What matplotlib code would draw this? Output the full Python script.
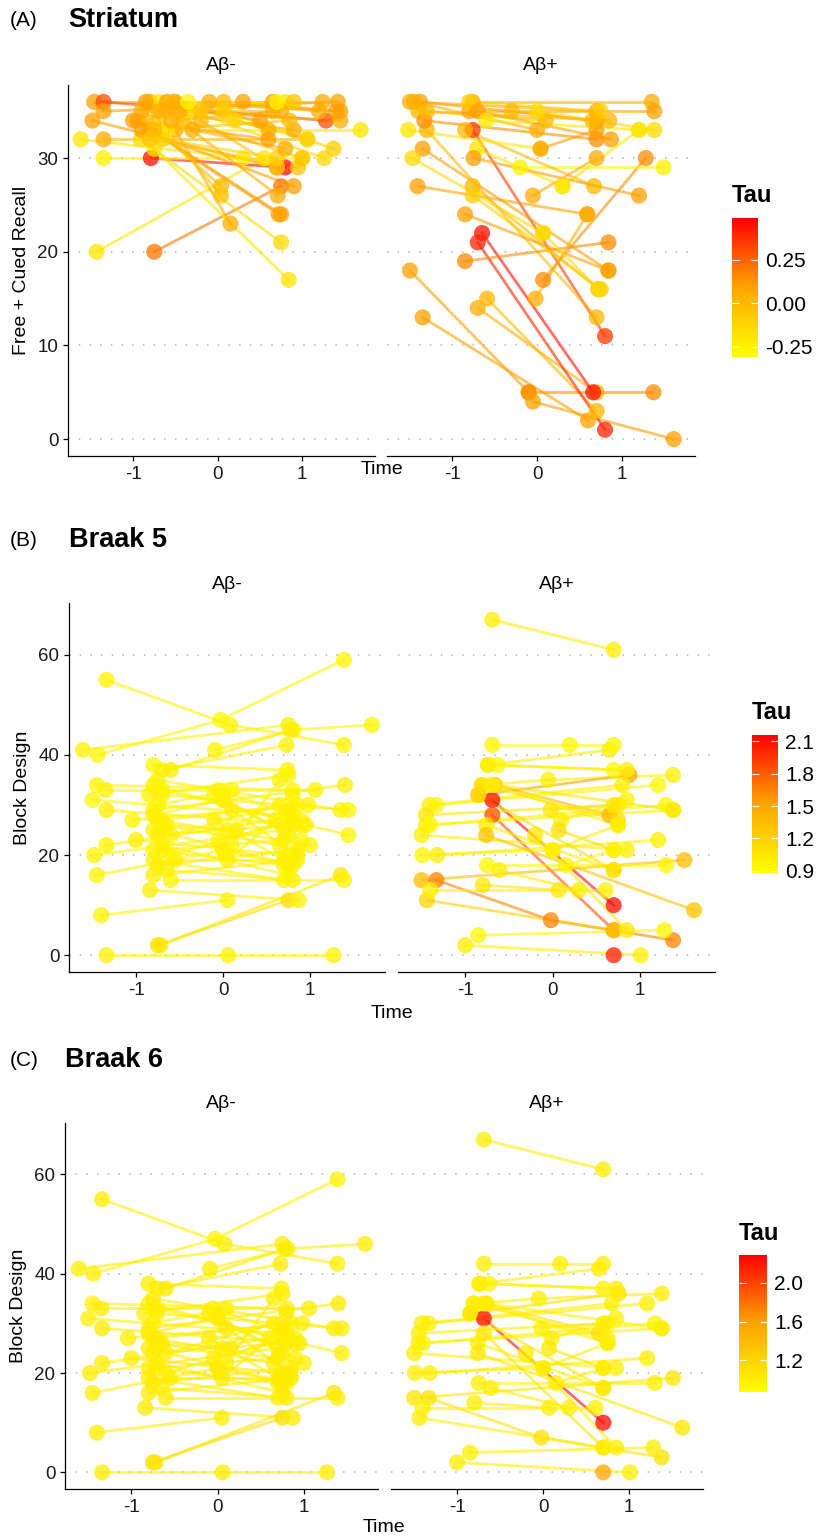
import matplotlib
matplotlib.use("Agg")
import matplotlib.pyplot as plt
from matplotlib.colors import LinearSegmentedColormap, Normalize
from matplotlib.cm import ScalarMappable

plt.rcParams['font.family'] = ['Liberation Sans', 'DejaVu Sans']
plt.rcParams['axes.unicode_minus'] = False

# ---- (A) Striatum: Free + Cued Recall ----
a_neg_time = [
    [-1.43, 0.55], [-0.75, 0.75], [-0.79, 0.80], [-1.35, 1.00], [-1.62, 0.30],
    [-1.35, 1.06], [-1.48, 0.70], [-1.46, 0.65], [-1.35, 1.28], [-1.35, 1.42],
    [-0.80, 1.24], [-0.70, 0.80], [-0.60, 1.45], [-0.52, 0.07], [-0.75, 0.84],
    [-0.91, 0.75], [-0.95, 0.75], [-0.80, 0.72], [-0.60, 0.71], [-0.50, 0.15],
    [-0.85, 0.04], [-0.70, 0.04], [-0.90, 0.90], [-0.40, 1.00], [-0.30, 1.26],
    [0.07, 1.37], [-0.60, 1.69], [-0.90, 0.65], [-0.70, 0.90], [-0.50, 0.60],
    [-0.45, 1.45], [-0.20, 0.70], [-0.10, 1.20], [0.30, 1.40], [-0.65, 0.70],
    [-0.30, 0.80], [-0.85, 0.50], [-1.00, 0.60], [-0.75, 0.85], [-0.55, 0.75],
    [-0.35, 0.70], [-0.20, 0.90], [0.20, 1.06], [-0.80, 0.95],
]
a_neg_score = [
    [20, 30], [20, 27], [30, 29], [30, 30], [32, 30],
    [32, 32], [34, 29], [36, 36], [36, 34], [35, 36],
    [36, 36], [36, 36], [36, 35], [36, 36], [31, 17],
    [32, 21], [34, 24], [33, 24], [35, 26], [33, 23],
    [34, 27], [34, 26], [33, 27], [34, 30], [35, 30],
    [35, 31], [33, 33], [35, 35], [35, 33], [36, 33],
    [35, 34], [34, 29], [36, 35], [36, 35], [32, 30],
    [33, 31], [36, 34], [34, 32], [33, 34], [34, 35],
    [36, 36], [35, 36], [34, 32], [32, 29],
]
a_neg_tau = [
    -0.20, 0.20, 0.45, -0.25, -0.20,
    0.05, 0.10, 0.10, 0.30, 0.10,
    0.05, -0.20, 0.10, 0.00, -0.20,
    -0.15, 0.10, 0.10, 0.05, 0.05,
    0.00, -0.05, 0.10, -0.05, -0.15,
    -0.10, -0.20, 0.05, 0.05, 0.05,
    0.05, 0.00, 0.05, 0.10, -0.10,
    0.05, 0.10, 0.10, 0.00, 0.05,
    -0.25, -0.05, -0.15, -0.05,
]

a_pos_time = [
    [-1.50, -0.10], [-1.35, 0.60], [-0.59, 0.70], [-0.70, 0.70], [-0.65, 0.66],
    [-0.76, 0.80], [-0.10, 1.37], [-0.05, 1.61], [-0.70, 0.80], [-0.85, 0.84],
    [0.07, 1.28], [-1.41, 0.59], [-1.35, 0.84], [-1.30, 0.70], [-0.76, 0.72],
    [-0.76, 0.75], [-0.85, 0.84], [-0.71, 0.30], [-0.20, 1.49], [0.30, 1.20],
    [-0.85, 0.67], [-1.47, 0.07], [-1.52, 0.04], [-0.75, 1.20], [-1.50, 0.70],
    [-1.38, 0.70], [-1.40, 0.85], [-1.33, 0.70], [-0.76, 1.35], [-0.80, 1.38],
    [-0.80, 0.75], [-0.70, 0.87], [-1.45, 0.00], [-1.30, 0.10], [-0.60, 1.20],
    [0.00, 1.38], [-0.02, 0.59], [0.07, 0.72], [-0.05, 0.70], [0.04, 0.70],
    [-0.30, 0.65],
]
a_pos_score = [
    [18, 5], [13, 2], [15, 3], [14, 5], [22, 5],
    [33, 11], [5, 5], [4, 0], [21, 1], [19, 21],
    [17, 30], [27, 24], [31, 18], [33, 13], [27, 16],
    [26, 16], [24, 18], [31, 27], [29, 29], [27, 33],
    [33, 27], [30, 22], [33, 31], [30, 26], [36, 35],
    [36, 34], [35, 34], [34, 32], [36, 36], [35, 35],
    [36, 35], [35, 32], [36, 33], [35, 34], [34, 33],
    [35, 33], [15, 24], [22, 16], [26, 30], [31, 33],
    [35, 34],
]
a_pos_tau = [
    0.10, 0.10, 0.00, 0.05, 0.45,
    0.35, 0.15, 0.10, 0.40, 0.15,
    0.15, 0.10, 0.10, 0.00, 0.00,
    -0.10, 0.10, -0.20, -0.25, -0.20,
    0.00, -0.15, -0.20, 0.10, 0.05,
    0.10, 0.00, 0.15, 0.05, 0.10,
    -0.10, 0.10, 0.05, 0.00, -0.20,
    -0.15, 0.05, -0.15, 0.05, 0.10,
    0.00,
]

# ---- (B)/(C) Block Design (same scores, tau from Braak 5 / Braak 6) ----
bd_neg_time = [
    [-1.34, 0.08, 1.39], [-1.44, -0.03, 1.39], [-1.61, 0.75], [-0.09, 0.81, 1.71], [-1.34, 0.06, 1.27],
    [-0.75, 0.75], [-0.72, 1.35], [-1.40, 0.05], [-0.84, 0.87], [-1.45, 0.00],
    [-1.48, 0.70], [-1.34, 0.60], [-1.50, 0.72], [-1.34, 0.95], [-1.45, 0.80],
    [-1.35, 1.06], [-1.04, 0.98], [-1.00, 0.75], [-0.80, 0.74], [-0.70, 0.73],
    [-0.60, 0.78], [-0.80, 0.90], [-0.70, 1.44], [-0.75, 1.35], [-0.70, 1.44],
    [-0.80, 1.40], [-0.75, 1.00], [-0.80, 0.80], [-0.70, 0.75], [-0.80, 0.70],
    [-0.75, 0.85], [-0.65, 0.80], [-0.60, 1.39], [-0.70, 0.70], [-0.60, 0.65],
    [-0.80, 0.00], [-0.75, 0.10], [-0.65, 0.15], [-0.05, 0.80], [0.00, 0.75],
    [0.10, 0.85], [-0.10, 0.70], [0.05, 0.80], [-0.05, 0.90], [0.00, 0.75],
    [0.10, 0.65], [-0.80, 0.70], [-0.75, 0.80], [-0.70, 0.85], [-0.85, 0.75],
    [-0.55, 0.72], [-0.10, 0.90], [0.05, 0.75], [-0.70, 0.65], [-0.60, 0.80],
    [-0.80, 0.85],
]
bd_neg_score = [
    [55, 46, 42], [40, 47, 59], [41, 46], [41, 45, 46], [0, 0, 0],
    [2, 11], [2, 16], [8, 11], [13, 11], [16, 21],
    [20, 25], [22, 27], [31, 28], [29, 26], [34, 33],
    [33, 33], [27, 30], [23, 20], [38, 37], [37, 42],
    [37, 45], [34, 26], [33, 24], [35, 29], [32, 29],
    [29, 34], [27, 22], [25, 18], [22, 16], [19, 15],
    [18, 21], [17, 15], [15, 15], [21, 23], [24, 30],
    [28, 31], [30, 33], [26, 25], [33, 28], [31, 24],
    [29, 20], [27, 19], [25, 32], [23, 27], [21, 18],
    [22, 35], [21, 18], [24, 26], [27, 30], [32, 36],
    [19, 19], [32, 23], [19, 29], [26, 22], [20, 27],
    [16, 19],
]
bd_neg_tau5 = [
    0.97, 0.95, 0.97, 0.96, 0.98, 1.10, 1.05, 0.97, 0.99, 0.96,
    0.98, 0.97, 0.95, 0.99, 0.97, 0.98, 0.96, 1.00, 0.97, 0.98,
    0.99, 0.97, 0.96, 0.98, 0.97, 0.99, 0.97, 0.98, 0.96, 0.97,
    1.00, 0.98, 0.97, 0.99, 0.97, 0.98, 0.96, 0.99, 0.97, 0.98,
    1.00, 0.97, 0.98, 0.96, 0.99, 0.97, 0.98, 1.00, 0.97, 0.96,
    0.98, 0.97, 0.99, 0.98, 0.97, 0.99,
]
bd_neg_tau6 = [
    1.00, 0.98, 0.99, 0.99, 1.01, 1.12, 1.07, 1.00, 1.02, 0.99,
    1.01, 1.00, 0.98, 1.02, 1.00, 1.01, 0.99, 1.03, 1.00, 1.01,
    1.02, 1.00, 0.99, 1.01, 1.00, 1.02, 1.00, 1.01, 0.99, 1.00,
    1.03, 1.01, 1.00, 1.02, 1.00, 1.01, 0.99, 1.02, 1.00, 1.01,
    1.03, 1.00, 1.01, 0.99, 1.02, 1.00, 1.01, 1.03, 1.00, 0.99,
    1.01, 1.00, 1.02, 1.01, 1.00, 1.02,
]

bd_pos_time = [
    [-0.69, 0.70], [-0.69, 0.20, 0.70], [-0.74, 0.65], [-0.63, 0.70], [-0.81, -0.05, 1.38],
    [-0.66, 0.65], [-0.85, 0.88], [-0.69, 0.70], [-0.69, 0.70], [-1.41, 0.80],
    [-1.33, 1.21], [-1.45, 0.70], [-1.45, 1.38], [-1.40, 1.30], [-1.50, 0.85],
    [-1.49, 0.00], [-1.32, 1.21], [-1.50, 1.51], [-1.33, -0.02, 1.38], [-1.44, 0.70],
    [-1.40, 0.61], [-0.80, 0.07], [-0.76, 0.70], [-0.76, 1.62], [-0.75, 1.30],
    [-0.61, 0.30], [-0.85, 1.28], [-1.00, 1.01], [0.70], [-0.02, 0.75],
    [0.10, 0.85], [0.07, 0.70], [-0.20, 0.85], [0.00, 0.75], [0.15, 0.70],
    [-0.81, 0.75], [-0.74, 0.85], [-0.66, 1.38], [-0.85, 0.70], [-0.70, 0.75],
]
bd_pos_score = [
    [67, 61], [42, 42, 42], [38, 41], [38, 37], [34, 35, 36],
    [34, 28], [32, 36], [31, 10], [28, 5], [30, 34],
    [30, 34], [28, 30], [26, 29], [26, 30], [24, 21],
    [20, 21], [20, 23], [15, 19], [15, 7, 3], [11, 5],
    [13, 13], [14, 13], [26, 17], [24, 9], [18, 18],
    [17, 13], [4, 5], [2, 0], [0], [29, 30],
    [27, 31], [25, 21], [24, 5], [21, 26], [18, 21],
    [34, 27], [38, 37], [34, 29], [32, 17], [34, 26],
]
bd_pos_tau5 = [
    1.00, 0.95, 1.00, 0.95, 1.00,
    1.40, 1.50, 2.10, 1.85, 1.00,
    0.95, 1.05, 1.00, 0.95, 1.00,
    0.95, 1.00, 1.35, 1.65, 1.20,
    1.00, 1.05, 1.00, 1.30, 0.95,
    1.00, 0.95, 1.00, 2.05, 1.05,
    1.00, 1.10, 1.05, 1.00, 0.95,
    1.10, 1.00, 1.05, 1.10, 1.00,
]
bd_pos_tau6 = [
    1.00, 1.00, 1.00, 0.97, 1.00,
    1.10, 1.10, 2.25, 1.08, 1.00,
    1.00, 1.00, 1.00, 0.97, 1.00,
    1.00, 1.00, 1.05, 1.10, 1.00,
    1.00, 1.00, 1.00, 1.05, 1.00,
    1.00, 1.00, 1.00, 1.55, 1.00,
    1.00, 1.05, 1.00, 1.00, 1.00,
    1.00, 1.00, 1.00, 1.05, 1.00,
]

W, H = 824, 1538
fig = plt.figure(figsize=(W / 100, H / 100), dpi=100)
cmap = LinearSegmentedColormap.from_list('tau', ['#FFFF00', '#FFA500', '#FF0000'])


def add_axes_px(x0, y0, x1, y1):
    return fig.add_axes([x0 / W, 1 - y1 / H, (x1 - x0) / W, (y1 - y0) / H])


def facet(ax, times, scores, taus, norm, ylim, yticks, first):
    for t, s, tau in zip(times, scores, taus):
        ax.plot(t, s, color=cmap(norm(tau)), alpha=0.6, lw=2.0, zorder=2)
    for t, s, tau in zip(times, scores, taus):
        ax.scatter(t, s, s=135, color=cmap(norm(tau)), alpha=0.75,
                   edgecolors='none', zorder=3)
    for y in yticks:
        ax.axhline(y, color='#b5b5b5', lw=1.1, ls=(0, (1, 6)), zorder=1)
    ax.set_xlim(-1.77, 1.86)
    ax.set_ylim(ylim)
    ax.set_xticks([-1, 0, 1])
    ax.set_yticks(yticks)
    for side in ['top', 'right']:
        ax.spines[side].set_visible(False)
    ax.spines['bottom'].set_linewidth(0.9)
    ax.spines['left'].set_linewidth(0.9)
    ax.tick_params(length=3.5, width=0.9, labelsize=13.5, labelcolor='#1a1a1a')
    if not first:
        ax.spines['left'].set_visible(False)
        ax.tick_params(axis='y', left=False, labelleft=False)


def colorbar(box, norm, ticks, fmt):
    cax = add_axes_px(*box)
    cb = fig.colorbar(ScalarMappable(norm=norm, cmap=cmap), cax=cax, ticks=ticks)
    cb.outline.set_visible(False)
    cb.ax.set_yticklabels([fmt % v for v in ticks])
    cb.ax.tick_params(direction='in', length=5, width=0.8, color='white',
                      left=True, right=True, labelsize=15, pad=5)
    fig.text(box[0] / W, 1 - (box[1] - 22) / H, 'Tau', fontsize=17,
             fontweight='bold', ha='left', va='center')


panels = [
    dict(tag='(A)', title='Striatum', ty=20, ylab='Free + Cued Recall',
         left=(68, 85, 375, 456), right=(387, 85, 695, 456), cbar=(732, 218, 758, 357),
         neg=(a_neg_time, a_neg_score, a_neg_tau), pos=(a_pos_time, a_pos_score, a_pos_tau),
         norm=Normalize(-0.31, 0.49), cticks=[-0.25, 0.0, 0.25], cfmt='%.2f',
         ylim=(-1.8, 37.8), yticks=[0, 10, 20, 30], time_y=469),
    dict(tag='(B)', title='Braak 5', ty=540, ylab='Block Design',
         left=(69, 603, 385, 972), right=(398, 603, 715, 972), cbar=(752, 735, 778, 873),
         neg=(bd_neg_time, bd_neg_score, bd_neg_tau5), pos=(bd_pos_time, bd_pos_score, bd_pos_tau5),
         norm=Normalize(0.88, 2.16), cticks=[0.9, 1.2, 1.5, 1.8, 2.1], cfmt='%.1f',
         ylim=(-3.35, 70.35), yticks=[0, 20, 40, 60], time_y=1014),
    dict(tag='(C)', title='Braak 6', ty=1060, ylab='Block Design',
         left=(65, 1123, 378, 1489), right=(391, 1123, 703, 1489), cbar=(739, 1255, 767, 1392),
         neg=(bd_neg_time, bd_neg_score, bd_neg_tau6), pos=(bd_pos_time, bd_pos_score, bd_pos_tau6),
         norm=Normalize(0.87, 2.29), cticks=[1.2, 1.6, 2.0], cfmt='%.1f',
         ylim=(-3.35, 70.35), yticks=[0, 20, 40, 60], time_y=1527),
]

for p in panels:
    fig.text(10 / W, 1 - p['ty'] / H, p['tag'], fontsize=15, ha='left', va='center')
    fig.text(p['left'][0] / W, 1 - p['ty'] / H, p['title'], fontsize=19.5,
             fontweight='bold', ha='left', va='center')

    ax1 = add_axes_px(*p['left'])
    facet(ax1, *p['neg'], p['norm'], p['ylim'], p['yticks'], True)
    ax1.set_ylabel(p['ylab'], fontsize=14, labelpad=5)

    ax2 = add_axes_px(*p['right'])
    facet(ax2, *p['pos'], p['norm'], p['ylim'], p['yticks'], False)

    for ax, lab in [(ax1, 'Aβ-'), (ax2, 'Aβ+')]:
        ax.text(0.5, 1.0 + 19 / (p['left'][3] - p['left'][1]), lab, transform=ax.transAxes,
                ha='center', va='center', fontsize=14)

    mid = (p['left'][0] + p['right'][2]) / 2
    fig.text(mid / W, 1 - p['time_y'] / H, 'Time', fontsize=14, ha='center', va='center')

    colorbar(p['cbar'], p['norm'], p['cticks'], p['cfmt'])

fig.savefig('out.png', dpi=100, facecolor='white')
